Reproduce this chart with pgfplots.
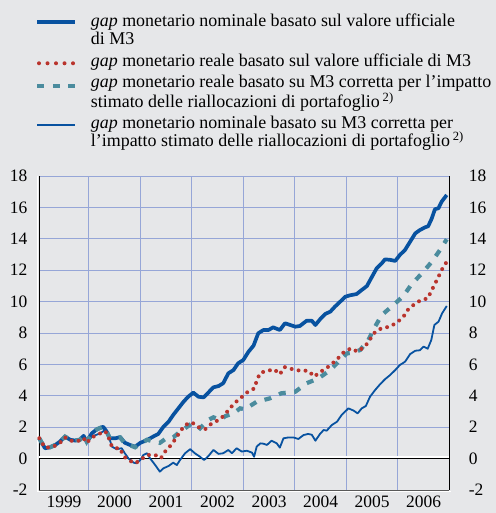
\documentclass[border=0pt]{standalone}
\usepackage{fontspec}
\setmainfont{Liberation Serif}
\usepackage{pgfplots}
\pgfplotsset{compat=1.18}
\definecolor{bg}{RGB}{230,231,233}
\definecolor{gridc}{RGB}{150,166,215}
\definecolor{ecbblue}{RGB}{8,82,160}
\definecolor{ecbred}{RGB}{185,52,45}
\definecolor{ecbteal}{RGB}{75,140,158}
\newcommand{\lf}{\fontsize{17.5}{18}\selectfont}
\newcommand{\gf}{\fontsize{18}{18}\selectfont}
\begin{document}
\begin{tikzpicture}[x=1bp,y=1bp]
\fill[bg] (0,0) rectangle (496,513);
\useasboundingbox (0,0) rectangle (496,513);
% legend
\draw[ecbblue, line width=3.7bp] (37.3,490.7) -- (75,490.7);
\draw[ecbred, line width=4bp, line cap=round, dash pattern=on 0bp off 8.5bp] (39,449.7) -- (75,449.7);
\draw[ecbteal, line width=4.2bp, dash pattern=on 7bp off 8.5bp] (37.3,427.3) -- (76,427.3);
\draw[ecbblue, line width=1.8bp] (37.3,388) -- (75,388);
\begin{scope}[every node/.style={anchor=base west, inner sep=0pt, font=\gf}]
\node at (90.7,486.3) {\textit{gap} monetario nominale basato sul valore ufficiale};
\node at (90.7,468.7) {di M3};
\node at (90.7,446.3) {\textit{gap} monetario reale basato sul valore ufficiale di M3};
\node at (90.7,425.7) {\textit{gap} monetario reale basato su M3 corretta per l’impatto};
\node at (90.7,405.7) {stimato delle riallocazioni di portafoglio\,\textsuperscript{2)}};
\node at (90.7,384.7) {\textit{gap} monetario nominale basato su M3 corretta per};
\node at (90.7,366.3) {l’impatto stimato delle riallocazioni di portafoglio\,\textsuperscript{2)}};
\end{scope}
\draw[white, line width=1.6bp] (37.6,21) -- (37.6,337);
\draw[white, line width=1.4bp] (37,21.2) -- (451,21.2);
\begin{axis}[
  at={(39.3bp,23bp)}, anchor=south west,
  scale only axis, width=410bp, height=314bp,
  xmin=1999.04, xmax=2007, ymin=-2, ymax=18,
  axis x line*=bottom, axis y line*=left,
  x axis line style={draw=black!65, line width=0.9bp, -},
  y axis line style={black, line width=0.8bp, -},
  xtick={1999.52,2000.5,2001.5,2002.5,2003.5,2004.5,2005.5,2006.5},
  xticklabels={1999,2000,2001,2002,2003,2004,2005,2006},
  xticklabel style={font=\lf, yshift=-2.5bp},
  major x tick style={draw=none},
  extra x ticks={2000,2001,2002,2003,2004,2005,2006},
  extra x tick labels={},
  extra x tick style={grid=major, major grid style={gridc, line width=0.7bp},
     tick style={draw=black!65, line width=0.9bp}, major tick length=4bp, tick align=outside},
  ytick={-2,0,2,4,6,8,10,12,14,16,18},
  yticklabels={-2,0,2,4,6,8,10,12,14,16,18},
  yticklabel style={font=\lf, anchor=east, xshift=-8.5bp},
  major y tick style={draw=none},
  ymajorgrids, major grid style={gridc, line width=0.7bp},
  extra y ticks={0}, extra y tick labels={},
  extra y tick style={grid=major, major grid style={black, line width=0.9bp}, major tick length=0pt},
  clip=false,
]
\draw[white, line width=1.5bp] ([yshift=1.6bp]axis cs:1999.04,0) -- ([yshift=1.6bp]axis cs:2007,0);
\addplot[ecbblue, line width=1.8bp, line join=round] coordinates {
(1999.04,1.29) (1999.15,0.66) (1999.25,0.72) (1999.35,0.87) (1999.44,1.08) (1999.54,1.40) (1999.64,1.20) (1999.73,1.15) (1999.83,1.20) (1999.90,1.40) (1999.96,0.97) (2000.06,1.40) (2000.22,1.61) (2000.32,1.82) (2000.38,1.50) (2000.45,0.76) (2000.54,0.60) (2000.64,0.66) (2000.70,0.34) (2000.77,0.02) (2000.87,-0.26) (2000.93,-0.30) (2001.00,-0.09) (2001.06,0.23) (2001.13,0.34) (2001.19,0.02) (2001.29,-0.41) (2001.38,-0.83) (2001.45,-0.62) (2001.55,-0.47) (2001.64,-0.26) (2001.71,-0.41) (2001.77,-0.10) (2001.87,0.34) (2001.97,0.60) (2002.06,0.34) (2002.16,0.12) (2002.24,-0.09) (2002.32,0.15) (2002.42,0.55) (2002.52,0.30) (2002.61,0.34) (2002.71,0.55) (2002.78,0.34) (2002.87,0.66) (2002.97,0.45) (2003.07,0.50) (2003.17,0.38) (2003.21,0.12) (2003.26,0.76) (2003.33,0.97) (2003.39,0.95) (2003.46,0.87) (2003.55,1.14) (2003.65,0.97) (2003.71,0.70) (2003.78,1.29) (2003.88,1.35) (2003.97,1.35) (2004.07,1.25) (2004.17,1.50) (2004.26,1.57) (2004.33,1.52) (2004.40,1.14) (2004.49,1.57) (2004.56,1.82) (2004.62,1.78) (2004.72,2.14) (2004.82,2.35) (2004.91,2.78) (2005.01,3.10) (2005.04,3.20) (2005.14,3.06) (2005.22,2.88) (2005.30,3.20) (2005.38,3.35) (2005.46,3.94) (2005.56,4.37) (2005.66,4.75) (2005.75,5.05) (2005.85,5.32) (2005.95,5.64) (2006.04,5.96) (2006.14,6.17) (2006.24,6.66) (2006.34,6.87) (2006.43,6.90) (2006.50,7.13) (2006.58,7.00) (2006.65,7.55) (2006.71,8.51) (2006.79,8.72) (2006.86,9.25) (2006.95,9.72)
};
\addplot[ecbblue, line width=3.7bp, line join=round] coordinates {
(1999.04,1.29) (1999.15,0.66) (1999.25,0.72) (1999.35,0.87) (1999.44,1.08) (1999.54,1.40) (1999.64,1.20) (1999.73,1.15) (1999.83,1.20) (1999.90,1.45) (1999.96,1.08) (2000.06,1.61) (2000.16,1.87) (2000.28,2.03) (2000.35,1.71) (2000.41,1.29) (2000.51,1.29) (2000.61,1.37) (2000.70,1.01) (2000.80,0.87) (2000.90,0.76) (2001.00,1.00) (2001.13,1.18) (2001.25,1.40) (2001.35,1.57) (2001.45,2.03) (2001.55,2.35) (2001.64,2.78) (2001.74,3.20) (2001.84,3.62) (2001.93,3.94) (2002.03,4.20) (2002.13,3.94) (2002.23,3.90) (2002.32,4.20) (2002.42,4.54) (2002.52,4.62) (2002.61,4.80) (2002.71,5.43) (2002.81,5.64) (2002.90,6.07) (2003.00,6.28) (2003.10,6.80) (2003.20,7.20) (2003.29,7.98) (2003.39,8.19) (2003.49,8.19) (2003.58,8.36) (2003.71,8.19) (2003.81,8.62) (2003.91,8.51) (2004.01,8.40) (2004.10,8.45) (2004.23,8.78) (2004.33,8.78) (2004.40,8.51) (2004.49,8.87) (2004.59,9.21) (2004.69,9.36) (2004.78,9.68) (2004.88,9.99) (2004.98,10.31) (2005.07,10.40) (2005.20,10.48) (2005.30,10.74) (2005.40,10.99) (2005.50,11.59) (2005.59,12.12) (2005.69,12.44) (2005.75,12.69) (2005.85,12.66) (2005.95,12.59) (2006.04,12.97) (2006.14,13.29) (2006.24,13.82) (2006.34,14.35) (2006.43,14.56) (2006.53,14.73) (2006.59,14.80) (2006.66,15.30) (2006.72,15.88) (2006.79,15.95) (2006.85,16.36) (2006.95,16.79)
};
\addplot[ecbteal, line width=4.2bp, dash pattern=on 7bp off 8.5bp] coordinates {
(1999.04,1.29) (1999.15,0.66) (1999.25,0.72) (1999.35,0.87) (1999.44,1.08) (1999.54,1.40) (1999.64,1.20) (1999.73,1.15) (1999.83,1.20) (1999.90,1.45) (1999.96,1.08) (2000.06,1.61) (2000.16,1.87) (2000.28,2.03) (2000.35,1.71) (2000.41,1.29) (2000.51,1.29) (2000.61,1.35) (2000.70,0.95) (2000.80,0.85) (2000.90,0.72) (2001.00,0.95) (2001.13,1.20) (2001.25,1.10) (2001.38,1.00) (2001.51,1.30) (2001.64,1.35) (2001.77,1.71) (2001.87,1.93) (2002.00,2.25) (2002.10,2.10) (2002.16,1.93) (2002.32,2.46) (2002.42,2.63) (2002.55,2.46) (2002.65,2.70) (2002.81,2.88) (2002.94,3.20) (2003.03,3.14) (2003.26,3.62) (2003.52,3.84) (2003.74,4.16) (2004.01,4.26) (2004.23,4.80) (2004.46,5.11) (2004.69,5.64) (2004.88,6.28) (2005.01,6.70) (2005.14,6.75) (2005.27,6.92) (2005.43,7.55) (2005.53,8.24) (2005.69,9.15) (2005.88,9.68) (2006.11,10.36) (2006.27,11.12) (2006.47,11.80) (2006.66,12.54) (2006.82,13.29) (2006.95,13.97)
};
\addplot[ecbred, line width=4bp, line cap=round, dash pattern=on 0bp off 7bp] coordinates {
(1999.04,1.30) (1999.15,0.70) (1999.25,0.72) (1999.35,0.82) (1999.44,1.00) (1999.54,1.35) (1999.64,1.15) (1999.73,1.10) (1999.83,1.15) (1999.90,1.30) (1999.96,1.00) (2000.06,1.35) (2000.22,1.60) (2000.32,1.75) (2000.38,1.40) (2000.45,0.76) (2000.54,0.66) (2000.61,0.66) (2000.67,0.17) (2000.77,-0.09) (2000.90,-0.30) (2001.00,-0.10) (2001.13,0.23) (2001.29,0.23) (2001.40,0.02) (2001.48,0.44) (2001.58,0.80) (2001.68,1.23) (2001.77,1.71) (2001.87,2.14) (2002.00,2.31) (2002.13,2.00) (2002.26,1.87) (2002.39,2.25) (2002.55,2.50) (2002.65,2.84) (2002.74,3.20) (2002.84,3.56) (2002.97,3.92) (2003.09,4.26) (2003.22,4.48) (2003.26,4.96) (2003.33,5.47) (2003.46,5.58) (2003.60,5.69) (2003.71,5.37) (2003.80,5.83) (2003.96,5.69) (2004.10,5.60) (2004.26,5.60) (2004.38,5.22) (2004.47,5.47) (2004.61,5.75) (2004.72,6.03) (2004.84,6.39) (2004.96,6.81) (2005.09,7.02) (2005.22,6.81) (2005.37,7.17) (2005.46,7.60) (2005.55,8.02) (2005.68,8.30) (2005.84,8.40) (2005.98,8.66) (2006.11,9.04) (2006.19,9.46) (2006.32,9.83) (2006.45,10.10) (2006.58,10.20) (2006.65,10.67) (2006.72,11.12) (2006.79,11.59) (2006.86,12.06) (2006.95,12.54)
};
\end{axis}
\begin{axis}[
  at={(39.3bp,23bp)}, anchor=south west,
  scale only axis, width=410bp, height=314bp,
  xmin=1999.04, xmax=2007, ymin=-2, ymax=18,
  axis x line=none, axis y line*=right,
  y axis line style={black, line width=0.8bp, -},
  ytick={-2,0,2,4,6,8,10,12,14,16,18},
  yticklabels={-2,0,2,4,6,8,10,12,14,16,18},
  yticklabel style={font=\lf, anchor=west, xshift=16bp},
  major y tick style={draw=none},
]
\end{axis}
\end{tikzpicture}
\end{document}
